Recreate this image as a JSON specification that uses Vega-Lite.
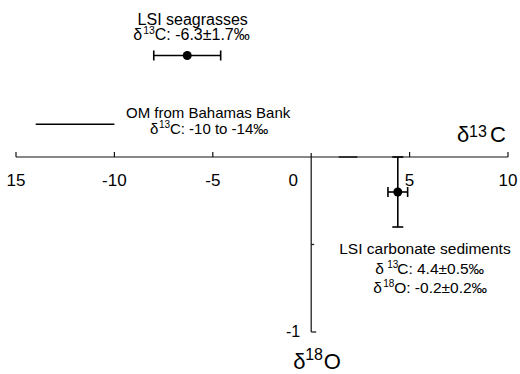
{
  "$schema": "https://vega.github.io/schema/vega-lite/v6.json",
  "width": 492,
  "height": 374,
  "autosize": {"type": "none"},
  "padding": {"left": 16, "right": 12, "top": 0, "bottom": 0},
  "background": "white",
  "config": {
    "view": {"stroke": null},
    "text": {"font": "Liberation Sans", "baseline": "alphabetic", "align": "left", "color": "#000"},
    "rule": {"color": "#111"}
  },
  "data": {"values": [{}]},
  "datasets": {
    "xticks": [
      {"value": -15, "label": "15"},
      {"value": -10, "label": "-10"},
      {"value": -5, "label": "-5"},
      {"value": 5, "label": "5"},
      {"value": 10, "label": "10"}
    ],
    "samples": [
      {"sample": "LSI seagrasses", "d13C": -6.3, "d13C_lo": -8.0, "d13C_hi": -4.6, "d18O": 0.58},
      {"sample": "LSI carbonate sediments", "d13C": 4.4, "d13C_lo": 3.9, "d13C_hi": 4.9, "d18O": -0.2, "d18O_lo": -0.4, "d18O_hi": 0.0}
    ],
    "om": [
      {"source": "OM from Bahamas Bank", "d13C_min": -14, "d13C_max": -10, "d18O": 0.187}
    ]
  },
  "layer": [
    {
      "mark": {"type": "rule", "strokeWidth": 1.2},
      "encoding": {
        "x": {"datum": -15, "type": "quantitative", "scale": {"domain": [-15, 10], "nice": false, "zero": false}, "axis": null},
        "x2": {"datum": 10},
        "y": {"datum": 0, "type": "quantitative", "scale": {"domain": [-1.24, 0.8971], "nice": false, "zero": false}, "axis": null}
      }
    },
    {
      "mark": {"type": "rule", "strokeWidth": 2, "color": "#333"},
      "encoding": {
        "x": {"datum": 1.4, "type": "quantitative", "scale": {"domain": [-15, 10], "nice": false, "zero": false}, "axis": null},
        "x2": {"datum": 2.35},
        "y": {"datum": 0, "type": "quantitative", "scale": {"domain": [-1.24, 0.8971], "nice": false, "zero": false}, "axis": null}
      }
    },
    {
      "mark": {"type": "rule", "strokeWidth": 1.2, "yOffset": -4},
      "encoding": {
        "x": {"datum": 0, "type": "quantitative", "scale": {"domain": [-15, 10], "nice": false, "zero": false}, "axis": null},
        "y": {"datum": 0, "type": "quantitative", "scale": {"domain": [-1.24, 0.8971], "nice": false, "zero": false}, "axis": null},
        "y2": {"datum": -1}
      }
    },
    {
      "data": {"name": "xticks"},
      "mark": {"type": "rule", "strokeWidth": 1.2, "y2Offset": -5},
      "encoding": {
        "x": {"field": "value", "type": "quantitative", "scale": {"domain": [-15, 10], "nice": false, "zero": false}, "axis": null},
        "y": {"datum": 0, "type": "quantitative", "scale": {"domain": [-1.24, 0.8971], "nice": false, "zero": false}, "axis": null},
        "y2": {"datum": 0}
      }
    },
    {
      "data": {"name": "xticks"},
      "mark": {"type": "text", "fontSize": 17, "dy": 29, "align": "center"},
      "encoding": {
        "x": {"field": "value", "type": "quantitative", "scale": {"domain": [-15, 10], "nice": false, "zero": false}, "axis": null},
        "y": {"datum": 0, "type": "quantitative", "scale": {"domain": [-1.24, 0.8971], "nice": false, "zero": false}, "axis": null},
        "text": {"field": "label"}
      }
    },
    {
      "mark": {"type": "text", "text": "0", "fontSize": 17, "dx": -18, "dy": 29, "align": "center"},
      "encoding": {
        "x": {"datum": 0, "type": "quantitative", "scale": {"domain": [-15, 10], "nice": false, "zero": false}, "axis": null},
        "y": {"datum": 0, "type": "quantitative", "scale": {"domain": [-1.24, 0.8971], "nice": false, "zero": false}, "axis": null}
      }
    },
    {
      "mark": {"type": "rule", "strokeWidth": 1.2, "x2Offset": 3},
      "encoding": {
        "x": {"datum": 0, "type": "quantitative", "scale": {"domain": [-15, 10], "nice": false, "zero": false}, "axis": null},
        "x2": {"datum": 0},
        "y": {"datum": -0.5, "type": "quantitative", "scale": {"domain": [-1.24, 0.8971], "nice": false, "zero": false}, "axis": null}
      }
    },
    {
      "mark": {"type": "rule", "strokeWidth": 1.2, "x2Offset": 5},
      "encoding": {
        "x": {"datum": 0, "type": "quantitative", "scale": {"domain": [-15, 10], "nice": false, "zero": false}, "axis": null},
        "x2": {"datum": 0},
        "y": {"datum": -1, "type": "quantitative", "scale": {"domain": [-1.24, 0.8971], "nice": false, "zero": false}, "axis": null}
      }
    },
    {
      "mark": {"type": "text", "text": "-1", "fontSize": 16, "dx": -11, "dy": 5, "align": "right"},
      "encoding": {
        "x": {"datum": 0, "type": "quantitative", "scale": {"domain": [-15, 10], "nice": false, "zero": false}, "axis": null},
        "y": {"datum": -1, "type": "quantitative", "scale": {"domain": [-1.24, 0.8971], "nice": false, "zero": false}, "axis": null}
      }
    },
    {
      "mark": {"type": "text", "text": "δ", "fontSize": 22, "dx": -51, "dy": -15},
      "encoding": {
        "x": {"datum": 10, "type": "quantitative", "scale": {"domain": [-15, 10], "nice": false, "zero": false}, "axis": null},
        "y": {"datum": 0, "type": "quantitative", "scale": {"domain": [-1.24, 0.8971], "nice": false, "zero": false}, "axis": null}
      }
    },
    {
      "mark": {"type": "text", "text": "13", "fontSize": 16, "dx": -39, "dy": -20},
      "encoding": {
        "x": {"datum": 10, "type": "quantitative", "scale": {"domain": [-15, 10], "nice": false, "zero": false}, "axis": null},
        "y": {"datum": 0, "type": "quantitative", "scale": {"domain": [-1.24, 0.8971], "nice": false, "zero": false}, "axis": null}
      }
    },
    {
      "mark": {"type": "text", "text": "C", "fontSize": 22, "dx": -18, "dy": -15},
      "encoding": {
        "x": {"datum": 10, "type": "quantitative", "scale": {"domain": [-15, 10], "nice": false, "zero": false}, "axis": null},
        "y": {"datum": 0, "type": "quantitative", "scale": {"domain": [-1.24, 0.8971], "nice": false, "zero": false}, "axis": null}
      }
    },
    {
      "mark": {"type": "text", "text": "δ", "fontSize": 22, "dx": -18, "dy": 37},
      "encoding": {
        "x": {"datum": 0, "type": "quantitative", "scale": {"domain": [-15, 10], "nice": false, "zero": false}, "axis": null},
        "y": {"datum": -1, "type": "quantitative", "scale": {"domain": [-1.24, 0.8971], "nice": false, "zero": false}, "axis": null}
      }
    },
    {
      "mark": {"type": "text", "text": "18", "fontSize": 16, "dx": -6, "dy": 28},
      "encoding": {
        "x": {"datum": 0, "type": "quantitative", "scale": {"domain": [-15, 10], "nice": false, "zero": false}, "axis": null},
        "y": {"datum": -1, "type": "quantitative", "scale": {"domain": [-1.24, 0.8971], "nice": false, "zero": false}, "axis": null}
      }
    },
    {
      "mark": {"type": "text", "text": "O", "fontSize": 22, "dx": 12.5, "dy": 37},
      "encoding": {
        "x": {"datum": 0, "type": "quantitative", "scale": {"domain": [-15, 10], "nice": false, "zero": false}, "axis": null},
        "y": {"datum": -1, "type": "quantitative", "scale": {"domain": [-1.24, 0.8971], "nice": false, "zero": false}, "axis": null}
      }
    },
    {
      "data": {"name": "om"},
      "mark": {"type": "rule", "strokeWidth": 1.6, "color": "#000"},
      "encoding": {
        "x": {"field": "d13C_min", "type": "quantitative", "scale": {"domain": [-15, 10], "nice": false, "zero": false}, "axis": null},
        "x2": {"field": "d13C_max"},
        "y": {"field": "d18O", "type": "quantitative", "scale": {"domain": [-1.24, 0.8971], "nice": false, "zero": false}, "axis": null}
      }
    },
    {
      "data": {"name": "om"},
      "mark": {"type": "text", "fontSize": 15, "dx": 11.6, "dy": -6},
      "encoding": {
        "x": {"field": "d13C_max", "type": "quantitative", "scale": {"domain": [-15, 10], "nice": false, "zero": false}, "axis": null},
        "y": {"field": "d18O", "type": "quantitative", "scale": {"domain": [-1.24, 0.8971], "nice": false, "zero": false}, "axis": null},
        "text": {"field": "source"}
      }
    },
    {
      "data": {"name": "om"},
      "mark": {"type": "text", "text": "δ", "fontSize": 15, "dx": 35.6, "dy": 10},
      "encoding": {
        "x": {"field": "d13C_max", "type": "quantitative", "scale": {"domain": [-15, 10], "nice": false, "zero": false}, "axis": null},
        "y": {"field": "d18O", "type": "quantitative", "scale": {"domain": [-1.24, 0.8971], "nice": false, "zero": false}, "axis": null}
      }
    },
    {
      "data": {"name": "om"},
      "mark": {"type": "text", "text": "13", "fontSize": 10, "dx": 44.5, "dy": 4},
      "encoding": {
        "x": {"field": "d13C_max", "type": "quantitative", "scale": {"domain": [-15, 10], "nice": false, "zero": false}, "axis": null},
        "y": {"field": "d18O", "type": "quantitative", "scale": {"domain": [-1.24, 0.8971], "nice": false, "zero": false}, "axis": null}
      }
    },
    {
      "data": {"name": "om"},
      "mark": {"type": "text", "text": "C: -10 to -14‰", "fontSize": 15, "dx": 55.5, "dy": 10},
      "encoding": {
        "x": {"field": "d13C_max", "type": "quantitative", "scale": {"domain": [-15, 10], "nice": false, "zero": false}, "axis": null},
        "y": {"field": "d18O", "type": "quantitative", "scale": {"domain": [-1.24, 0.8971], "nice": false, "zero": false}, "axis": null}
      }
    },
    {
      "data": {"name": "samples"},
      "mark": {"type": "rule", "strokeWidth": 1.6, "color": "#000"},
      "encoding": {
        "x": {"field": "d13C_lo", "type": "quantitative", "scale": {"domain": [-15, 10], "nice": false, "zero": false}, "axis": null},
        "x2": {"field": "d13C_hi"},
        "y": {"field": "d18O", "type": "quantitative", "scale": {"domain": [-1.24, 0.8971], "nice": false, "zero": false}, "axis": null}
      }
    },
    {
      "data": {"name": "samples"},
      "mark": {"type": "rule", "strokeWidth": 1.6, "color": "#000", "yOffset": -5, "y2Offset": 5},
      "encoding": {
        "x": {"field": "d13C_lo", "type": "quantitative", "scale": {"domain": [-15, 10], "nice": false, "zero": false}, "axis": null},
        "y": {"field": "d18O", "type": "quantitative", "scale": {"domain": [-1.24, 0.8971], "nice": false, "zero": false}, "axis": null},
        "y2": {"field": "d18O"}
      }
    },
    {
      "data": {"name": "samples"},
      "mark": {"type": "rule", "strokeWidth": 1.6, "color": "#000", "yOffset": -5, "y2Offset": 5},
      "encoding": {
        "x": {"field": "d13C_hi", "type": "quantitative", "scale": {"domain": [-15, 10], "nice": false, "zero": false}, "axis": null},
        "y": {"field": "d18O", "type": "quantitative", "scale": {"domain": [-1.24, 0.8971], "nice": false, "zero": false}, "axis": null},
        "y2": {"field": "d18O"}
      }
    },
    {
      "data": {"name": "samples"},
      "transform": [{"filter": "isValid(datum.d18O_lo)"}],
      "mark": {"type": "rule", "strokeWidth": 1.6, "color": "#000"},
      "encoding": {
        "x": {"field": "d13C", "type": "quantitative", "scale": {"domain": [-15, 10], "nice": false, "zero": false}, "axis": null},
        "y": {"field": "d18O_lo", "type": "quantitative", "scale": {"domain": [-1.24, 0.8971], "nice": false, "zero": false}, "axis": null},
        "y2": {"field": "d18O_hi"}
      }
    },
    {
      "data": {"name": "samples"},
      "transform": [{"filter": "isValid(datum.d18O_lo)"}],
      "mark": {"type": "rule", "strokeWidth": 1.6, "color": "#000", "xOffset": -5.5, "x2Offset": 5.5},
      "encoding": {
        "x": {"field": "d13C", "type": "quantitative", "scale": {"domain": [-15, 10], "nice": false, "zero": false}, "axis": null},
        "x2": {"field": "d13C"},
        "y": {"field": "d18O_lo", "type": "quantitative", "scale": {"domain": [-1.24, 0.8971], "nice": false, "zero": false}, "axis": null}
      }
    },
    {
      "data": {"name": "samples"},
      "transform": [{"filter": "isValid(datum.d18O_hi)"}],
      "mark": {"type": "rule", "strokeWidth": 1.6, "color": "#000", "xOffset": -5.5, "x2Offset": 5.5},
      "encoding": {
        "x": {"field": "d13C", "type": "quantitative", "scale": {"domain": [-15, 10], "nice": false, "zero": false}, "axis": null},
        "x2": {"field": "d13C"},
        "y": {"field": "d18O_hi", "type": "quantitative", "scale": {"domain": [-1.24, 0.8971], "nice": false, "zero": false}, "axis": null}
      }
    },
    {
      "data": {"name": "samples"},
      "mark": {"type": "circle", "size": 80, "color": "#000", "opacity": 1},
      "encoding": {
        "x": {"field": "d13C", "type": "quantitative", "scale": {"domain": [-15, 10], "nice": false, "zero": false}, "axis": null},
        "y": {"field": "d18O", "type": "quantitative", "scale": {"domain": [-1.24, 0.8971], "nice": false, "zero": false}, "axis": null}
      }
    },
    {
      "data": {"name": "samples"},
      "transform": [{"filter": "datum.sample == 'LSI seagrasses'"}],
      "mark": {"type": "text", "fontSize": 16, "dx": 5.5, "dy": -30, "align": "center"},
      "encoding": {
        "x": {"field": "d13C", "type": "quantitative", "scale": {"domain": [-15, 10], "nice": false, "zero": false}, "axis": null},
        "y": {"field": "d18O", "type": "quantitative", "scale": {"domain": [-1.24, 0.8971], "nice": false, "zero": false}, "axis": null},
        "text": {"field": "sample"}
      }
    },
    {
      "data": {"name": "samples"},
      "transform": [{"filter": "datum.sample == 'LSI seagrasses'"}],
      "mark": {"type": "text", "text": "δ", "fontSize": 16, "dx": -54, "dy": -15},
      "encoding": {
        "x": {"field": "d13C", "type": "quantitative", "scale": {"domain": [-15, 10], "nice": false, "zero": false}, "axis": null},
        "y": {"field": "d18O", "type": "quantitative", "scale": {"domain": [-1.24, 0.8971], "nice": false, "zero": false}, "axis": null}
      }
    },
    {
      "data": {"name": "samples"},
      "transform": [{"filter": "datum.sample == 'LSI seagrasses'"}],
      "mark": {"type": "text", "text": "13", "fontSize": 10.5, "dx": -44, "dy": -21},
      "encoding": {
        "x": {"field": "d13C", "type": "quantitative", "scale": {"domain": [-15, 10], "nice": false, "zero": false}, "axis": null},
        "y": {"field": "d18O", "type": "quantitative", "scale": {"domain": [-1.24, 0.8971], "nice": false, "zero": false}, "axis": null}
      }
    },
    {
      "data": {"name": "samples"},
      "transform": [{"filter": "datum.sample == 'LSI seagrasses'"}],
      "mark": {"type": "text", "text": "C: -6.3±1.7‰", "fontSize": 16, "dx": -32.5, "dy": -15},
      "encoding": {
        "x": {"field": "d13C", "type": "quantitative", "scale": {"domain": [-15, 10], "nice": false, "zero": false}, "axis": null},
        "y": {"field": "d18O", "type": "quantitative", "scale": {"domain": [-1.24, 0.8971], "nice": false, "zero": false}, "axis": null}
      }
    },
    {
      "data": {"name": "samples"},
      "transform": [{"filter": "datum.sample == 'LSI carbonate sediments'"}],
      "mark": {"type": "text", "fontSize": 15.5, "dx": -58.6, "dy": 62},
      "encoding": {
        "x": {"field": "d13C", "type": "quantitative", "scale": {"domain": [-15, 10], "nice": false, "zero": false}, "axis": null},
        "y": {"field": "d18O", "type": "quantitative", "scale": {"domain": [-1.24, 0.8971], "nice": false, "zero": false}, "axis": null},
        "text": {"field": "sample"}
      }
    },
    {
      "data": {"name": "samples"},
      "transform": [{"filter": "datum.sample == 'LSI carbonate sediments'"}],
      "mark": {"type": "text", "text": "δ", "fontSize": 15.5, "dx": -22.6, "dy": 82},
      "encoding": {
        "x": {"field": "d13C", "type": "quantitative", "scale": {"domain": [-15, 10], "nice": false, "zero": false}, "axis": null},
        "y": {"field": "d18O", "type": "quantitative", "scale": {"domain": [-1.24, 0.8971], "nice": false, "zero": false}, "axis": null}
      }
    },
    {
      "data": {"name": "samples"},
      "transform": [{"filter": "datum.sample == 'LSI carbonate sediments'"}],
      "mark": {"type": "text", "text": "13", "fontSize": 10, "dx": -10.5, "dy": 76},
      "encoding": {
        "x": {"field": "d13C", "type": "quantitative", "scale": {"domain": [-15, 10], "nice": false, "zero": false}, "axis": null},
        "y": {"field": "d18O", "type": "quantitative", "scale": {"domain": [-1.24, 0.8971], "nice": false, "zero": false}, "axis": null}
      }
    },
    {
      "data": {"name": "samples"},
      "transform": [{"filter": "datum.sample == 'LSI carbonate sediments'"}],
      "mark": {"type": "text", "text": "C: 4.4±0.5‰", "fontSize": 15.5, "dx": -0.6, "dy": 82},
      "encoding": {
        "x": {"field": "d13C", "type": "quantitative", "scale": {"domain": [-15, 10], "nice": false, "zero": false}, "axis": null},
        "y": {"field": "d18O", "type": "quantitative", "scale": {"domain": [-1.24, 0.8971], "nice": false, "zero": false}, "axis": null}
      }
    },
    {
      "data": {"name": "samples"},
      "transform": [{"filter": "datum.sample == 'LSI carbonate sediments'"}],
      "mark": {"type": "text", "text": "δ", "fontSize": 15.5, "dx": -24.6, "dy": 101},
      "encoding": {
        "x": {"field": "d13C", "type": "quantitative", "scale": {"domain": [-15, 10], "nice": false, "zero": false}, "axis": null},
        "y": {"field": "d18O", "type": "quantitative", "scale": {"domain": [-1.24, 0.8971], "nice": false, "zero": false}, "axis": null}
      }
    },
    {
      "data": {"name": "samples"},
      "transform": [{"filter": "datum.sample == 'LSI carbonate sediments'"}],
      "mark": {"type": "text", "text": "18", "fontSize": 10, "dx": -14.5, "dy": 95},
      "encoding": {
        "x": {"field": "d13C", "type": "quantitative", "scale": {"domain": [-15, 10], "nice": false, "zero": false}, "axis": null},
        "y": {"field": "d18O", "type": "quantitative", "scale": {"domain": [-1.24, 0.8971], "nice": false, "zero": false}, "axis": null}
      }
    },
    {
      "data": {"name": "samples"},
      "transform": [{"filter": "datum.sample == 'LSI carbonate sediments'"}],
      "mark": {"type": "text", "text": "O: -0.2±0.2‰", "fontSize": 15.5, "dx": -3.6, "dy": 101},
      "encoding": {
        "x": {"field": "d13C", "type": "quantitative", "scale": {"domain": [-15, 10], "nice": false, "zero": false}, "axis": null},
        "y": {"field": "d18O", "type": "quantitative", "scale": {"domain": [-1.24, 0.8971], "nice": false, "zero": false}, "axis": null}
      }
    }
  ]
}
